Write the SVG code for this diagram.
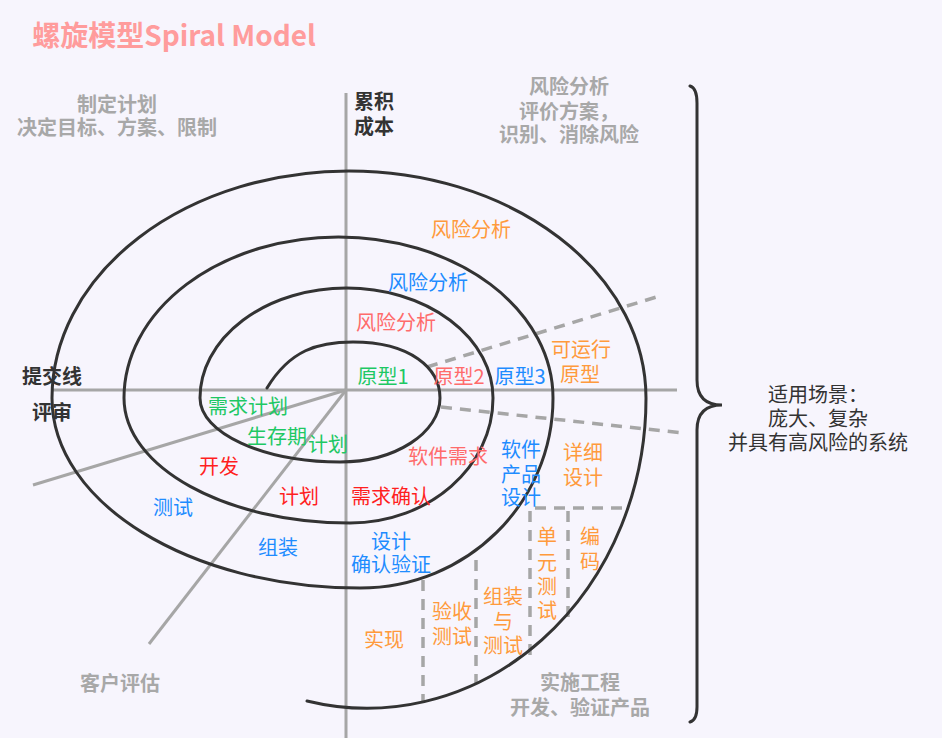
<svg xmlns="http://www.w3.org/2000/svg" width="942" height="738" viewBox="0 0 942 738">
<style>
text{font-family:"Noto Sans CJK SC","Noto Sans",sans-serif;font-size:20px;text-anchor:middle}
.gray{fill:#a8a8a8;font-weight:bold}
.dark{fill:#333;font-weight:bold}
.or{fill:#ff9a3c}
.bl{fill:#1e8cff}
.rd{fill:#ff1f1f}
.pk{fill:#ff6b6b}
.gr{fill:#1ec864}
.sc{fill:#333}
.axis{stroke:#a6a6a6;stroke-width:3;fill:none}
.dash{stroke:#a6a6a6;stroke-width:3.5;fill:none;stroke-dasharray:11 8}
.spiral{stroke:#333;stroke-width:3;fill:none;stroke-linecap:round}
</style>
<rect width="942" height="738" fill="#f7f5fd"/>
<text x="174" y="46" style="font-size:28px;font-weight:bold;fill:#ff9c9c">螺旋模型Spiral Model</text>
<g id="connectors">
<path class="axis" d="M346,93 V738"/>
<path class="axis" d="M53,390 H677"/>
<path class="axis" d="M346,390 L33,485"/>
<path class="axis" d="M346,390 L149,644"/>
<path class="dash" d="M427,367 L663,295"/>
<path class="dash" d="M441,407 L683,433"/>
<path class="dash" d="M535,508 H628 M530,511 V662 M568,511 V625 M476,560 V683 M423,580 V702"/>
<path id="spiral" class="spiral" d="M267,388 C290,350 318,342 353,342 C410,342 440,368 440,398 C440,433 395,462 340,462 C263,462 200,433 200,398 A146.5,110 0 0 1 493,398 C493,467 429,523 350,523 C225,523 124,467 124,398 A214.5,161 0 0 1 553,398 C553,503 467,588 360,588 C190,588 52,503 52,398 A297,227 0 0 1 646,398 A279,310 0 0 1 307,701"/>
<path id="brace" class="spiral" d="M690,86 Q697,88 697,103 V380 Q697,405 722,405 Q697,405 697,430 V707 Q697,720 690,722"/>
</g>
<g id="quadrant-labels">
<g id="plan"><text class="gray" x="117" y="112">制定计划<tspan x="117" dy="23">决定目标、方案、限制</tspan></text></g>
<g id="risk"><text class="gray" x="569" y="94">风险分析<tspan x="569" dy="25">评价方案，</tspan><tspan x="569" dy="23">识别、消除风险</tspan></text></g>
<g id="impl"><text class="gray" x="580" y="690">实施工程<tspan x="580" dy="25">开发、验证产品</tspan></text></g>
<g id="eval"><text class="gray" x="120" y="691">客户评估</text></g>
<g id="cost"><text class="dark" x="374" y="109">累积<tspan x="374" dy="25">成本</tspan></text></g>
<g id="commit"><text class="dark" x="52" y="384">提交线</text></g>
<g id="review"><text class="dark" x="52" y="420">评审</text></g>
</g>
<g id="labels">
<text class="or" x="471" y="237">风险分析</text>
<text class="bl" x="428" y="290">风险分析</text>
<text class="pk" x="396" y="330">风险分析</text>
<text class="gr" x="383" y="384">原型1</text>
<text class="pk" x="459" y="384">原型2</text>
<text class="bl" x="520" y="384">原型3</text>
<text class="or" x="581" y="357">可运行<tspan x="580" dy="25">原型</tspan></text>
<text class="gr" x="248" y="414">需求计划</text>
<text class="gr" x="277" y="444">生存期</text>
<text class="gr" x="328" y="452">计划</text>
<text class="rd" x="219" y="474">开发</text>
<text class="rd" x="299" y="504">计划</text>
<text class="bl" x="173" y="515">测试</text>
<text class="bl" x="278" y="555">组装</text>
<text class="pk" x="448" y="464">软件需求</text>
<text class="rd" x="391" y="504">需求确认</text>
<text class="bl" x="521" y="457">软件<tspan x="521" dy="25">产品</tspan><tspan x="521" dy="23">设计</tspan></text>
<text class="or" x="583" y="460">详细<tspan x="583" dy="25">设计</tspan></text>
<text class="bl" x="391" y="549">设计<tspan x="391" dy="23">确认验证</tspan></text>
<text class="or" x="547" y="544">单<tspan x="547" dy="26">元</tspan><tspan x="547" dy="24">测</tspan><tspan x="547" dy="24">试</tspan></text>
<text class="or" x="590" y="544">编<tspan x="590" dy="25">码</tspan></text>
<text class="or" x="503" y="604">组装<tspan x="503" dy="25">与</tspan><tspan x="503" dy="24">测试</tspan></text>
<text class="or" x="452" y="619">验收<tspan x="452" dy="25">测试</tspan></text>
<text class="or" x="384" y="647">实现</text>
</g>
<g id="scenario">
<text class="sc" x="818" y="402">适用场景：<tspan x="818" dy="24">庞大、复杂</tspan><tspan x="818" dy="24">并具有高风险的系统</tspan></text>
</g>
</svg>
